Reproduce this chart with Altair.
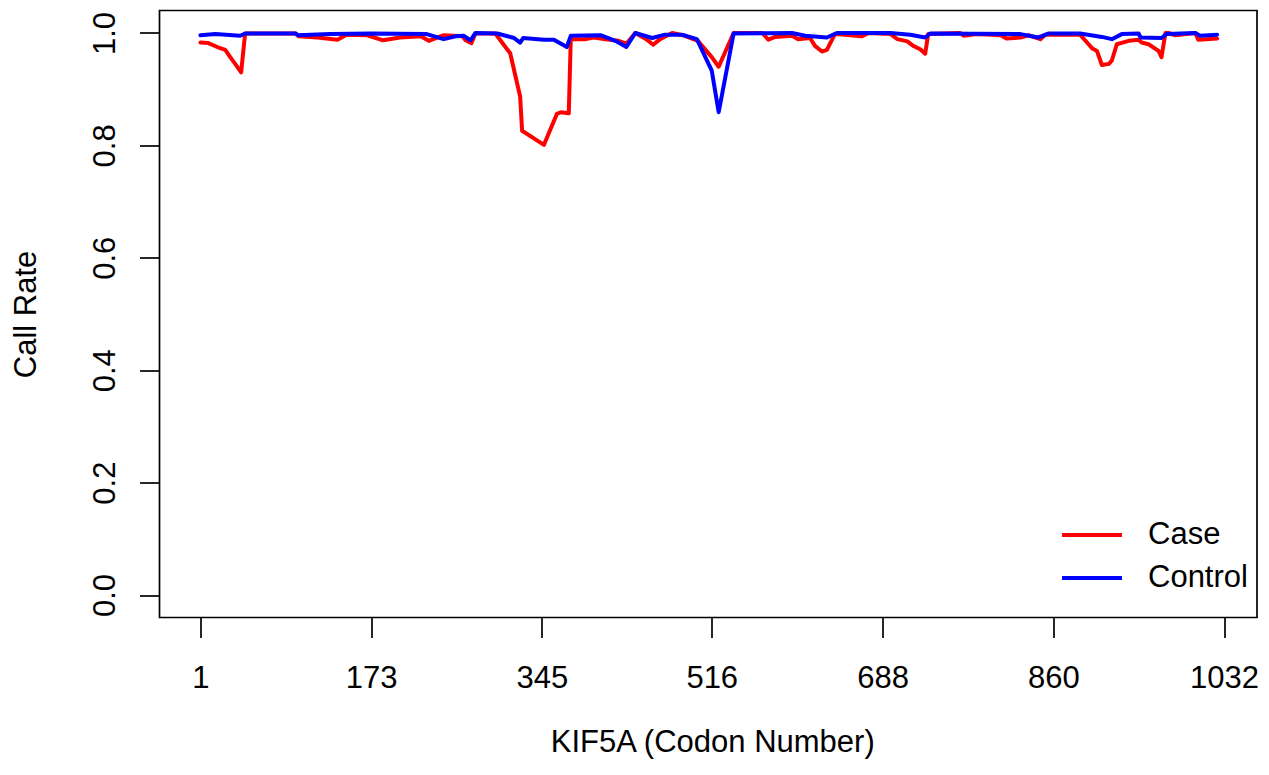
import altair as alt
import pandas as pd

# Case series (codon number, call rate)
case_codon = [1, 9, 18, 26, 31, 36, 42, 46, 97, 100,
              119, 139, 148, 169, 185, 202, 223, 231, 246, 265,
              268, 274, 278, 298, 313, 323, 325, 347, 360, 364,
              372, 374, 389, 397, 409, 422, 430, 439, 450, 457,
              464, 476, 489, 502, 516, 523, 538, 567, 573, 580,
              597, 603, 615, 620, 627, 632, 640, 656, 667, 674,
              696, 703, 713, 719, 726, 731, 734, 766, 770, 783,
              807, 813, 827, 835, 847, 852, 887, 894, 899, 904,
              909, 916, 919, 924, 936, 946, 949, 956, 966, 969,
              973, 976, 983, 1003, 1006, 1025]
case_rate = [0.983, 0.982, 0.975, 0.970, 0.957, 0.945, 0.930, 0.999, 0.999, 0.994,
             0.992, 0.988, 0.997, 0.996, 0.987, 0.992, 0.994, 0.986, 0.996, 0.994,
             0.987, 0.982, 0.999, 0.999, 0.964, 0.887, 0.826, 0.801, 0.856, 0.859,
             0.857, 0.989, 0.989, 0.992, 0.989, 0.986, 0.981, 1.000, 0.989, 0.979,
             0.989, 1.000, 0.995, 0.986, 0.957, 0.940, 1.000, 1.000, 0.988, 0.993,
             0.995, 0.989, 0.991, 0.977, 0.967, 0.970, 0.998, 0.996, 0.994, 1.000,
             0.998, 0.989, 0.985, 0.977, 0.971, 0.963, 0.998, 1.000, 0.995, 0.998,
             0.996, 0.990, 0.992, 0.996, 0.989, 0.997, 0.997, 0.983, 0.973, 0.968,
             0.943, 0.945, 0.951, 0.980, 0.986, 0.988, 0.983, 0.980, 0.968, 0.957,
             1.000, 1.000, 0.996, 1.000, 0.988, 0.990]

# Control series
ctrl_codon = [1, 16, 41, 46, 97, 99, 132, 172, 229, 246,
              258, 266, 273, 278, 300, 317, 323, 326, 347, 357,
              370, 374, 404, 419, 430, 439, 456, 469, 486, 501,
              516, 523, 538, 597, 610, 632, 642, 696, 716, 731,
              736, 827, 845, 855, 887, 909, 919, 929, 946, 948,
              969, 974, 1003, 1008, 1025]
ctrl_rate = [0.996, 0.998, 0.995, 0.999, 0.999, 0.996, 0.998, 0.999, 0.998, 0.989,
             0.994, 0.995, 0.987, 1.000, 0.999, 0.991, 0.983, 0.991, 0.988, 0.988,
             0.975, 0.995, 0.996, 0.986, 0.975, 1.000, 0.991, 0.997, 0.997, 0.989,
             0.933, 0.859, 0.999, 1.000, 0.995, 0.992, 1.000, 1.000, 0.997, 0.992,
             0.999, 0.998, 0.992, 0.999, 0.999, 0.993, 0.989, 0.998, 0.999, 0.992,
             0.991, 0.998, 1.000, 0.995, 0.997]

series_names = ["Case", "Control"]
series_colors = ["#ff0000", "#0000ff"]
x_ticks = [1, 173, 345, 516, 688, 860, 1032]
y_ticks = [0.0, 0.2, 0.4, 0.6, 0.8, 1.0]

df = pd.concat([
    pd.DataFrame({"codon": case_codon, "rate": case_rate, "group": "Case", "order": range(len(case_codon))}),
    pd.DataFrame({"codon": ctrl_codon, "rate": ctrl_rate, "group": "Control", "order": range(len(ctrl_codon))}),
])

FONT = "Liberation Sans, Arial, Helvetica, sans-serif"
FS = 31

chart = alt.Chart(df).mark_line(strokeWidth=4, strokeCap="round", strokeJoin="round").encode(
    x=alt.X("codon:Q",
            scale=alt.Scale(domain=[-40.24, 1065.2], nice=False, zero=False),
            axis=alt.Axis(values=x_ticks, format="d", labelAlign="center", labelBaseline="alphabetic",
                          labelPadding=49.5, labelFlush=False, labelOverlap=False, labelBound=False,
                          title="KIF5A (Codon Number)", titleX=552.75, titleY=134,
                          titleAlign="center", titleBaseline="alphabetic")),
    y=alt.Y("rate:Q",
            scale=alt.Scale(domain=[-0.04, 1.04], nice=False, zero=False),
            axis=alt.Axis(values=y_ticks, format=".1f", labelAngle=270, labelAlign="center",
                          labelBaseline="alphabetic", labelPadding=25, labelFlush=False,
                          labelOverlap=False, labelBound=False,
                          title="Call Rate", titleAngle=270, titleX=-124, titleY=303.5,
                          titleAlign="center", titleBaseline="alphabetic")),
    color=alt.Color("group:N",
                    scale=alt.Scale(domain=series_names, range=series_colors),
                    legend=alt.Legend(title=None, orient="none", legendX=900.5, legendY=503,
                                      symbolType="stroke", symbolSize=3600, symbolStrokeWidth=4,
                                      labelFontSize=FS, labelFont=FONT, labelColor="black",
                                      labelOffset=24, labelBaseline="middle", rowPadding=0,
                                      clipHeight=43, padding=0)),
    order="order:Q",
).properties(
    width=1097.5, height=607,
    autosize="none",
    background="white",
    padding={"left": 151.5, "top": 2.5, "right": 4, "bottom": 142.5},
).configure_view(
    stroke="black", strokeWidth=1.7
).configure_axis(
    grid=False, domain=False, tickColor="black", tickWidth=1.7, tickSize=20,
    labelFont=FONT, labelFontSize=FS, labelColor="black",
    titleFont=FONT, titleFontSize=FS, titleFontWeight="normal", titleColor="black",
)

chart.save("out.html", embed_options={"renderer": "svg", "actions": False})
